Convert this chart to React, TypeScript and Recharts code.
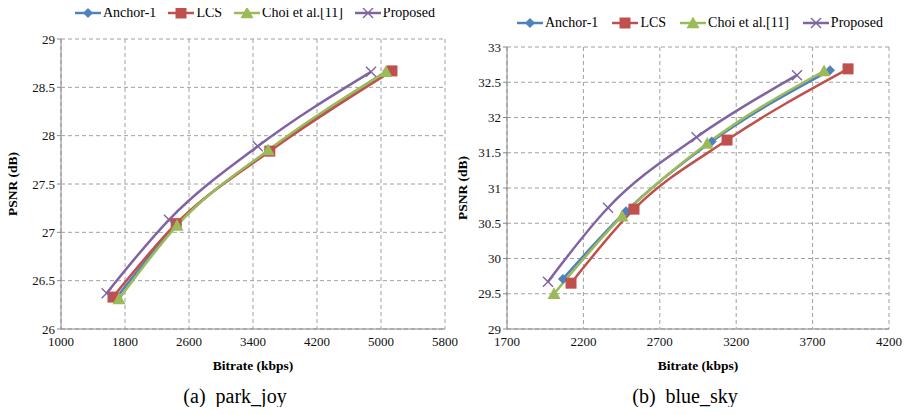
import React from "react";
import { LineChart, Line, XAxis, YAxis, CartesianGrid } from "recharts";

// ---- data: park_joy ----
const pjAnchor = [
  { x: 1700, y: 26.33 }, { x: 2450, y: 27.08 }, { x: 3600, y: 27.85 }, { x: 5080, y: 28.67 },
];
const pjLCS = [
  { x: 1650, y: 26.33 }, { x: 2440, y: 27.09 }, { x: 3610, y: 27.84 }, { x: 5137, y: 28.67 },
];
const pjChoi = [
  { x: 1725, y: 26.31 }, { x: 2450, y: 27.07 }, { x: 3590, y: 27.85 }, { x: 5062, y: 28.66 },
];
const pjProposed = [
  { x: 1570, y: 26.37 }, { x: 2350, y: 27.13 }, { x: 3460, y: 27.89 }, { x: 4875, y: 28.66 },
];
const pjXTicks = [1000, 1800, 2600, 3400, 4200, 5000, 5800];
const pjYTicks = [26, 26.5, 27, 27.5, 28, 28.5, 29];

// ---- data: blue_sky ----
const bsAnchor = [
  { x: 2066, y: 29.71 }, { x: 2479, y: 30.67 }, { x: 3040, y: 31.66 }, { x: 3814, y: 32.67 },
];
const bsLCS = [
  { x: 2119, y: 29.65 }, { x: 2531, y: 30.7 }, { x: 3140, y: 31.68 }, { x: 3932, y: 32.69 },
];
const bsChoi = [
  { x: 2008, y: 29.5 }, { x: 2453, y: 30.6 }, { x: 3010, y: 31.63 }, { x: 3775, y: 32.66 },
];
const bsProposed = [
  { x: 1968, y: 29.67 }, { x: 2361, y: 30.72 }, { x: 2940, y: 31.72 }, { x: 3598, y: 32.6 },
];
const bsXTicks = [1700, 2200, 2700, 3200, 3700, 4200];
const bsYTicks = [29, 29.5, 30, 30.5, 31, 31.5, 32, 32.5, 33];

const seriesNames = ["Anchor-1", "LCS", "Choi et al.[11]", "Proposed"];
const colors = ["#4F81BD", "#C0504D", "#9BBB59", "#8064A2"];
const shapes = ["diamond", "square", "triangle", "cross"];

const FONT = "'Liberation Serif', 'Times New Roman', serif";

function Marker({ cx, cy, shape, color }: { cx: number; cy: number; shape: string; color: string }) {
  if (cx == null || cy == null) return null;
  if (shape === "diamond") {
    const r = 5;
    return <polygon points={`${cx},${cy - r} ${cx + r},${cy} ${cx},${cy + r} ${cx - r},${cy}`} fill={color} />;
  }
  if (shape === "square") {
    const r = 5.5;
    return <rect x={cx - r} y={cy - r} width={2 * r} height={2 * r} fill={color} />;
  }
  if (shape === "triangle") {
    const r = 6.5;
    return <polygon points={`${cx},${cy - r} ${cx + r},${cy + r * 0.8} ${cx - r},${cy + r * 0.8}`} fill={color} />;
  }
  const r = 5;
  return (
    <g stroke={color} strokeWidth={1.4}>
      <line x1={cx - r} y1={cy - r} x2={cx + r} y2={cy + r} />
      <line x1={cx - r} y1={cy + r} x2={cx + r} y2={cy - r} />
    </g>
  );
}

function makeDot(i: number) {
  return (props: any) => (
    <Marker key={`${i}-${props.index}`} cx={props.cx} cy={props.cy} shape={shapes[i]} color={colors[i]} />
  );
}

function Legend({ left, top, width }: { left: number; top: number; width: number }) {
  return (
    <div
      style={{
        position: "absolute", left, top, width, display: "flex", alignItems: "center",
        justifyContent: "space-between",
        fontFamily: FONT, fontSize: 14, color: "#000", whiteSpace: "nowrap", lineHeight: "16px",
      }}
    >
      {seriesNames.map((n, i) => (
        <div key={n} style={{ display: "flex", alignItems: "center" }}>
          <svg width={26} height={14} style={{ marginRight: 2 }}>
            <line x1={0} y1={7} x2={26} y2={7} stroke={colors[i]} strokeWidth={2.5} />
            <Marker cx={13} cy={7} shape={shapes[i]} color={colors[i]} />
          </svg>
          <span>{n}</span>
        </div>
      ))}
    </div>
  );
}

const tickStyle = { fontFamily: FONT, fontSize: 13, fill: "#111" };

function Chart({
  series, xTicks, yTicks, xDomain, yDomain, width, height, margin,
}: any) {
  return (
    <LineChart width={width} height={height} margin={margin}>
      <CartesianGrid stroke="#a0a0a0" strokeDasharray="4 3" />
      <XAxis
        type="number" dataKey="x" domain={xDomain} ticks={xTicks} allowDataOverflow
        interval={0} tick={tickStyle} axisLine={{ stroke: "#888" }} tickLine={false}
        height={22} tickMargin={2}
      />
      <YAxis
        type="number" dataKey="y" domain={yDomain} ticks={yTicks} allowDataOverflow
        interval={0} tick={tickStyle} axisLine={{ stroke: "#888" }} tickLine={{ stroke: "#888" }}
        tickSize={4} width={40} tickMargin={2}
      />
      {series.map((d: any, i: number) => (
        <Line
          key={seriesNames[i]} data={d} dataKey="y" type="monotone" stroke={colors[i]}
          strokeWidth={2.5} dot={makeDot(i)} activeDot={false} isAnimationActive={false}
          name={seriesNames[i]}
        />
      ))}
    </LineChart>
  );
}

const labelStyle: React.CSSProperties = {
  position: "absolute", fontFamily: FONT, fontWeight: "bold", fontSize: 13.5, color: "#000", whiteSpace: "nowrap",
};
const captionStyle: React.CSSProperties = {
  position: "absolute", fontFamily: FONT, fontSize: 20, color: "#000", whiteSpace: "nowrap", lineHeight: "22px",
};

export default function App() {
  return (
    <div style={{ position: "relative", width: 910, height: 415, margin: -8, background: "#fff", overflow: "hidden" }}>
      <div style={{ position: "absolute", left: 0, top: 0 }}>
        <Chart
          series={[pjAnchor, pjLCS, pjChoi, pjProposed]}
          xTicks={pjXTicks} yTicks={pjYTicks} xDomain={[1000, 5800]} yDomain={[26, 29]}
          width={475} height={351} margin={{ top: 39, right: 30, left: 21, bottom: 0 }}
        />
      </div>
      <div style={{ position: "absolute", left: 446, top: 0 }}>
        <Chart
          series={[bsAnchor, bsLCS, bsChoi, bsProposed]}
          xTicks={bsXTicks} yTicks={bsYTicks} xDomain={[1700, 4200]} yDomain={[29, 33]}
          width={464} height={351} margin={{ top: 47, right: 21, left: 21, bottom: 0 }}
        />
      </div>
      <Legend left={75} top={5} width={360} />
      <Legend left={517} top={15} width={366} />
      <div style={{ ...labelStyle, left: 13, top: 184, transform: "translate(-50%, -50%) rotate(-90deg)" }}>PSNR (dB)</div>
      <div style={{ ...labelStyle, left: 463, top: 188, transform: "translate(-50%, -50%) rotate(-90deg)" }}>PSNR (dB)</div>
      <div style={{ ...labelStyle, left: 253, top: 366, transform: "translate(-50%, -50%)" }}>Bitrate (kbps)</div>
      <div style={{ ...labelStyle, left: 698, top: 366, transform: "translate(-50%, -50%)" }}>Bitrate (kbps)</div>
      <div style={{ ...captionStyle, left: 235, top: 396, transform: "translate(-50%, -50%)" }}>(a)&nbsp;&nbsp;park_joy</div>
      <div style={{ ...captionStyle, left: 685, top: 396, transform: "translate(-50%, -50%)" }}>(b)&nbsp;&nbsp;blue_sky</div>
    </div>
  );
}
